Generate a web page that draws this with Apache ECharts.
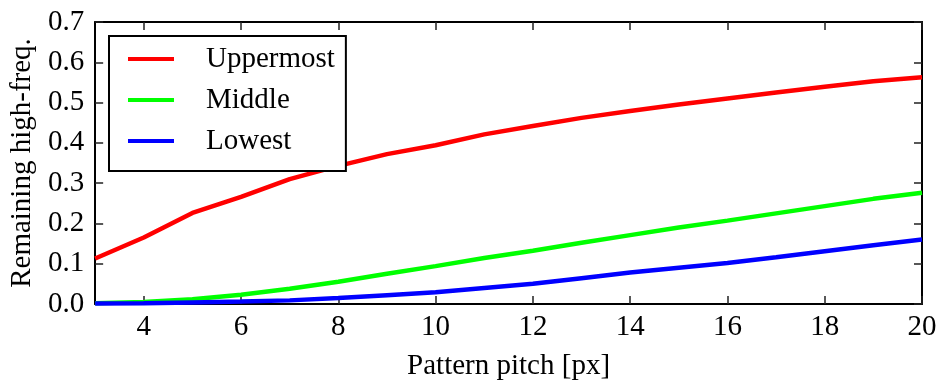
<!DOCTYPE html>
<html>
<head>
<meta charset="utf-8">
<script src="https://cdn.jsdelivr.net/npm/echarts@6/dist/echarts.min.js"></script>
<style>
  html, body { margin: 0; padding: 0; background: #fff; }
  #chart { width: 944px; height: 386px; }
</style>
</head>
<body>
<div id="chart"></div>
<script>
// Pattern pitch in pixels
const pitch = [3, 4, 5, 6, 7, 8, 9, 10, 11, 12, 13, 14, 15, 16, 17, 18, 19, 20];

// Remaining high-frequency content per layer
const uppermost = [0.113, 0.165, 0.226, 0.266, 0.310, 0.343, 0.372, 0.394, 0.421, 0.442, 0.462, 0.479, 0.495, 0.510, 0.525, 0.539, 0.553, 0.563];
const middle    = [0.002, 0.005, 0.012, 0.023, 0.038, 0.055, 0.075, 0.094, 0.114, 0.132, 0.152, 0.171, 0.190, 0.207, 0.225, 0.243, 0.261, 0.276];
const lowest    = [0.001, 0.002, 0.004, 0.006, 0.009, 0.015, 0.022, 0.029, 0.040, 0.050, 0.064, 0.078, 0.090, 0.102, 0.116, 0.131, 0.146, 0.160];

const xTicks = [4, 6, 8, 10, 12, 14, 16, 18, 20];

const seriesNames = ['Uppermost', 'Middle', 'Lowest'];
const seriesColors = ['#ff0000', '#00ff00', '#0000ff'];
const seriesData = [uppermost, middle, lowest];

const FONT = '"Liberation Serif", "DejaVu Serif", serif';
const FS = 29;

const chart = echarts.init(document.getElementById('chart'), null, { renderer: 'canvas' });

const tickStyle = { show: true, inside: true, length: 8, lineStyle: { color: '#222', width: 1.5 } };
const frameLine = { show: true, onZero: false, lineStyle: { color: '#000', width: 2 } };

chart.setOption({
  animation: false,
  backgroundColor: '#fff',
  textStyle: { fontFamily: FONT },
  grid: { left: 94, right: 22, top: 22, bottom: 80, containLabel: false },
  legend: {
    left: 109,
    top: 36,
    orient: 'vertical',
    icon: 'rect',
    itemWidth: 46,
    itemHeight: 4,
    itemGap: 9,
    padding: [7, 11, 14, 19],
    borderColor: '#000',
    borderWidth: 2,
    backgroundColor: '#fff',
    textStyle: { fontFamily: FONT, fontSize: FS, color: '#000', lineHeight: 32, padding: [0, 0, 0, 27] },
    data: seriesNames
  },
  xAxis: [
    {
      type: 'value', min: 3, max: 20, position: 'bottom',
      name: 'Pattern pitch [px]', nameLocation: 'middle', nameGap: 48,
      nameTextStyle: { fontFamily: FONT, fontSize: FS, color: '#000' },
      axisLine: frameLine,
      axisTick: Object.assign({ customValues: xTicks }, tickStyle),
      axisLabel: { customValues: xTicks, margin: 9, fontFamily: FONT, fontSize: FS, color: '#000' },
      splitLine: { show: false }
    },
    {
      type: 'value', min: 3, max: 20, position: 'top',
      axisLine: frameLine,
      axisTick: Object.assign({ customValues: xTicks }, tickStyle),
      axisLabel: { show: false, customValues: xTicks },
      splitLine: { show: false }
    }
  ],
  yAxis: [
    {
      type: 'value', min: 0, max: 0.7, interval: 0.1, position: 'left',
      name: 'Remaining high-freq.', nameLocation: 'middle', nameGap: 56, nameRotate: 90,
      nameTextStyle: { fontFamily: FONT, fontSize: FS, color: '#000' },
      axisLine: frameLine,
      axisTick: tickStyle,
      axisLabel: { margin: 11, fontFamily: FONT, fontSize: FS, color: '#000', formatter: v => v.toFixed(1) },
      splitLine: { show: false }
    },
    {
      type: 'value', min: 0, max: 0.7, interval: 0.1, position: 'right',
      axisLine: frameLine,
      axisTick: tickStyle,
      axisLabel: { show: false },
      splitLine: { show: false }
    }
  ],
  series: seriesNames.map((name, i) => ({
    name: name,
    type: 'line',
    xAxisIndex: 0,
    yAxisIndex: 0,
    showSymbol: false,
    symbol: 'none',
    smooth: false,
    color: seriesColors[i],
    lineStyle: { color: seriesColors[i], width: 4.5 },
    data: pitch.map((p, k) => [p, seriesData[i][k]]),
    z: 2 + i
  }))
});
</script>
</body>
</html>
